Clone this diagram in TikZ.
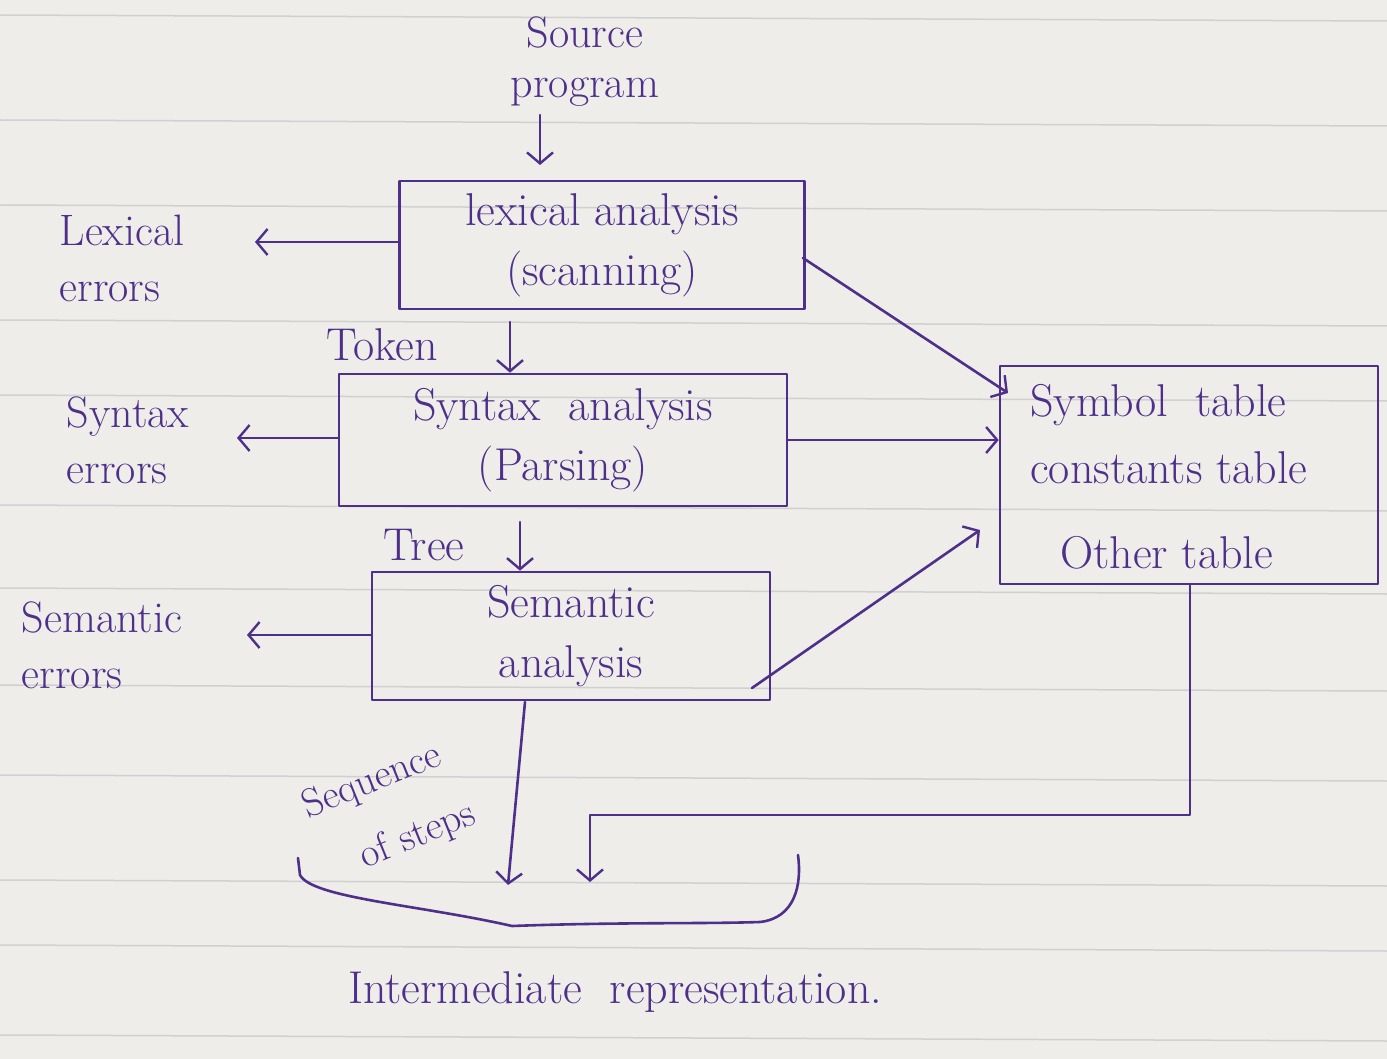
\documentclass[tikz,border=0pt]{standalone}
\usetikzlibrary{arrows.meta}
\definecolor{ink}{RGB}{78,48,138}
\definecolor{paper}{RGB}{238,237,233}
\definecolor{rule}{RGB}{208,208,208}
\begin{document}
\begin{tikzpicture}[x=1pt,y=-1pt,
  every node/.style={text=ink,font=\fontsize{46}{60}\selectfont,inner sep=2pt},
  pen/.style={draw=ink,line width=2.6pt,line cap=round,line join=round},
  arr/.style={pen,-{Straight Barb[length=11pt,width=26pt,line width=2.4pt]}},
  stagebox/.style={pen,rectangle,align=center,inner sep=0pt},
  lbl/.style={align=left,font=\fontsize{44}{56}\selectfont}]
\useasboundingbox (0,0) rectangle (1387,1059);
\fill[paper] (0,0) rectangle (1387,1059);
\foreach \yy in {15,120,205,320,395,505,588,685,775,880,945,1035}
  \draw[rule,line width=1.5pt] (0,\yy) -- (1387,\yy+6);

% nodes
\node[align=center,font=\fontsize{44}{50}\selectfont] (src) at (585,62) {Source\\program};
\node[stagebox,minimum width=405pt,minimum height=128pt] (lex) at (602,245) {lexical analysis\\(scanning)};
\node[stagebox,minimum width=448pt,minimum height=132pt] (syn) at (563,440) {Syntax\ \ analysis\\(Parsing)};
\node[stagebox,minimum width=398pt,minimum height=128pt] (sem) at (571,636) {Semantic\\analysis};
\node[pen,rectangle,minimum width=378pt,minimum height=218pt,inner sep=0pt] (sym) at (1189,475) {};
\node[anchor=west] (t1) at (1028,405) {Symbol\ \ table};
\node[anchor=west] (t2) at (1028,468) {constants table};
\node[anchor=west] (t3) at (1058,553) {Other table};

\node[lbl] (lexerr) at (122,258) {Lexical\\errors};
\node[lbl] (synerr) at (128,440) {Syntax\\errors};
\node[lbl] (semerr) at (102,645) {Semantic\\errors};
\node (tok) at (382,345) {Token};
\node (tree) at (424,545) {Tree};
\node[rotate=22,font=\fontsize{40}{48}\selectfont] (seq1) at (372,782) {Sequence};
\node[rotate=22,font=\fontsize{40}{48}\selectfont] (seq2) at (418,836) {of steps};
\node (ir) at (615,992) {Intermediate\ \ representation.};

% coordinates
\coordinate (c1) at (540,115);
\coordinate (c2) at (540,165);
\coordinate (lexerrtip) at (255,242);
\coordinate (synerrtip) at (237,438);
\coordinate (semerrtip) at (247,635);
\coordinate (tokA) at (510,322);
\coordinate (treeA) at (520,522);
\coordinate (semout) at (752,688);
\coordinate (semtip) at (980,530);
\coordinate (lexout) at (803,258);
\coordinate (lextip) at (1008,393);
\coordinate (seqA) at (525,702);
\coordinate (seqtip) at (508,885);
\coordinate (r1) at (1190,815);
\coordinate (r2) at (590,815);
\coordinate (rtip) at (590,882);

% connectors
\draw[arr] (c1) -- (c2);
\draw[arr] (lex.west |- lexerrtip) -- (lexerrtip);
\draw[arr] (syn.west |- synerrtip) -- (synerrtip);
\draw[arr] (sem.west |- semerrtip) -- (semerrtip);
\draw[arr] (tokA) -- (tokA |- syn.north);
\draw[arr] (treeA) -- (treeA |- sem.north);
\draw[arr] (lexout) -- (lextip);
\draw[arr] (syn.east) -- (syn.east -| sym.west);
\draw[arr] (semout) -- (semtip);
\draw[arr] (seqA) -- (seqtip);
\draw[arr] (sym.south -| r1) -- (r1) -- (r2) -- (rtip);

% brace
\draw[pen] (298,858) -- (300,875) .. controls (312,898) and (420,905) .. (512,926)
  .. controls (620,922) and (700,924) .. (760,922) .. controls (795,918) and (802,885) .. (798,855);
\end{tikzpicture}
\end{document}
